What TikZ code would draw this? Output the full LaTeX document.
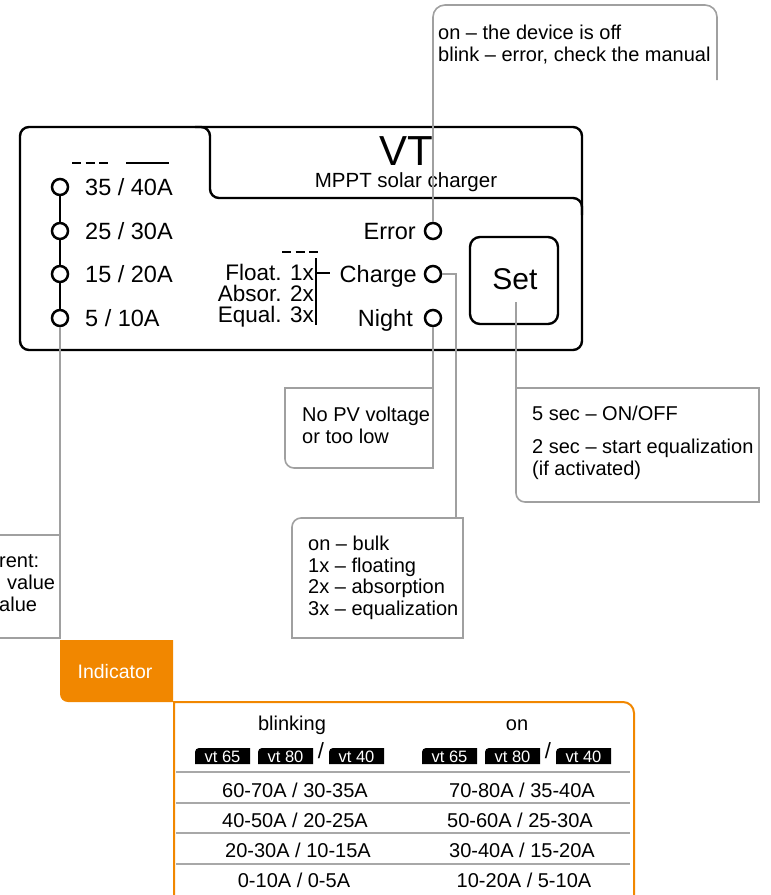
\documentclass[tikz,border=0pt]{standalone}
\usepackage{fontspec}
\setmainfont{Liberation Sans}
\definecolor{linegray}{HTML}{A0A0A0}
\definecolor{orng}{HTML}{F18700}
\definecolor{rowgray}{HTML}{A8A8A8}
\begin{document}
\begin{tikzpicture}[x=1pt,y=-1pt,
  dev/.style={line width=2.4pt, line join=round},
  led/.style={circle, draw, line width=2.5pt, minimum size=16pt, inner sep=0pt},
  big/.style={font=\fontsize{23.5}{23.5}\selectfont, inner sep=0pt},
  mode/.style={font=\fontsize{22.5}{22.5}\selectfont, inner sep=0pt, anchor=base east},
  note/.style={font=\fontsize{20}{22}\selectfont, inner sep=0pt, anchor=base west},
  conn/.style={draw=linegray, line width=1.6pt},
  cell/.style={font=\fontsize{20}{20}\selectfont, inner sep=0pt, anchor=base},
  badgetxt/.style={text=white, font=\fontsize{16.5}{16.5}\selectfont, inner sep=0pt, anchor=base},
  dashline/.style={line width=2.6pt, dash pattern=on 9pt off 4.5pt},
]
\useasboundingbox (0,0) rectangle (771,895);

% ---------- device body ----------
\draw[dev, rounded corners=9] (20,127) rectangle (582,350);
\draw[dev, rounded corners=9] (195,127) -- (210,127) -- (210,198) -- (582,198) -- (582,215);
\node[inner sep=0pt, anchor=base, font=\fontsize{42}{42}\selectfont] (vt) at (406,165) {VT};
\node[inner sep=0pt, anchor=base, font=\fontsize{20.5}{20.5}\selectfont] (mppt) at (406,187) {MPPT solar charger};

% left LED column
\node[led] (l1) at (60,187) {};
\node[led] (l2) at (60,231) {};
\node[led] (l3) at (60,274) {};
\node[led] (l4) at (60,318) {};
\draw[line width=2.4pt] (l1) -- (l2) -- (l3) -- (l4);
\node[big, anchor=base west] (t1) at (85,195.5) {35 / 40A};
\node[big, anchor=base west] (t2) at (85,239.5) {25 / 30A};
\node[big, anchor=base west] (t3) at (85,282.5) {15 / 20A};
\node[big, anchor=base west] (t4) at (85,326.5) {5 / 10A};
\draw[dashline] (72,163) -- (108,163);
\draw[line width=2.6pt] (126,163) -- (169,163);

% right LED column
\node[led] (err) at (433,231) {};
\node[led] (chg) at (433,274) {};
\node[led] (ngt) at (433,318) {};
\node[big, anchor=base east] (terr) at (416,239.5) {Error};
\node[big, anchor=base east] (tchg) at (417,282.5) {Charge};
\node[big, anchor=base east] (tngt) at (413,326.5) {Night};

% float / absor / equal
\node[mode] (fl) at (314,280) {Float. 1x};
\node[mode] (ab) at (314,301) {Absor. 2x};
\node[mode] (eq) at (314,322) {Equal. 3x};
\draw[line width=2.4pt] (316,258) -- (316,325);
\draw[line width=2.4pt] (316,273) -- (330,273);
\draw[dashline] (282,252) -- (320,252);

% Set button
\draw[dev, rounded corners=10] (470,237) rectangle (558,324);
\node[inner sep=0pt, anchor=base, font=\fontsize{30}{30}\selectfont] (set) at (515,289) {Set};
\coordinate (setc) at (516,302);

% ---------- callouts ----------
% error callout
\coordinate (eb) at (433,5);
\draw[conn, rounded corners=12] (err.north) -- (eb) -- (717,5) -- (717,80);
\node[note] (enote1) at (438,39) {on -- the device is off};
\node[note] (enote2) at (438,61) {blink -- error, check the manual};

% night callout
\coordinate (nb) at (433,388);
\draw[conn] (ngt.south) -- (nb);
\draw[conn] (nb) -- (433,468) [rounded corners=9] -- (285,468) [sharp corners] -- (285,388) -- (nb);
\node[note] (nnote1) at (302,421) {No PV voltage};
\node[note] (nnote2) at (302,443) {or too low};

% set callout
\coordinate (sb) at (516,388);
\draw[conn] (setc) -- (sb);
\draw[conn] (sb) -- (759,388) -- (759,502) [rounded corners=9] -- (516,502) [sharp corners] -- (sb);
\node[note] (snote1) at (532,420) {5 sec -- ON/OFF};
\node[note] (snote2) at (532,453) {2 sec -- start equalization};
\node[note] (snote3) at (532,475) {(if activated)};

% charge callout
\coordinate (cb) at (456,518);
\draw[conn] (chg.east) -| (cb);
\draw[conn] (292,638) [rounded corners=9] -- (292,518) [sharp corners] -- (463,518) -- (463,638) -- cycle;
\node[note] (cnote1) at (308,550) {on -- bulk};
\node[note] (cnote2) at (308,572) {1x -- floating};
\node[note] (cnote3) at (308,593) {2x -- absorption};
\node[note] (cnote4) at (308,615) {3x -- equalization};

% current callout (cut at the left edge)
\coordinate (ib) at (60,535);
\draw[conn] (l4.south) -- (ib);
\draw[conn] (-5,535) -- (ib) -- (60,638) -- (-5,638);
\node[note] (inote1) at (-1,567) {rent:};
\node[note] (inote2) at (7,589) {value};
\node[note] (inote3) at (-1,611) {alue};

% ---------- indicator ----------
\fill[orng] (60,640) -- (173,640) -- (173,702) [rounded corners=8] -- (60,702) [sharp corners] -- cycle;
\node[inner sep=0pt, text=white, font=\fontsize{19.5}{19.5}\selectfont] (ind) at (115,672) {Indicator};

\draw[orng, line width=2pt] (174,900) -- (174,702) [rounded corners=11] -- (634,702) [sharp corners] -- (634,900);

\node[cell] (hb) at (292,730) {blinking};
\node[cell] (ho) at (517,730) {on};

% badges
\foreach \n/\xa/\xb/\t in {a/195/250/vt 65, b/258/313/vt 80, c/329/384/vt 40, d/422/477/vt 65, e/485/540/vt 80, f/556/611/vt 40}{
  \fill (\xa,764) [rounded corners=4] -- (\xa,748) [sharp corners] -- (\xb,748) -- (\xb,764) -- cycle;
  \node[badgetxt] (bd\n) at ({(\xa+\xb)/2},762) {\t};
}
\node[inner sep=0pt, font=\fontsize{22}{22}\selectfont] (s1) at (321,751) {/};
\node[inner sep=0pt, font=\fontsize{22}{22}\selectfont] (s2) at (548,751) {/};

% rows
\foreach \y in {772,803,833,864}{
  \draw[rowgray, line width=1.5pt] (176,\y) -- (630,\y);
}
\node[cell] (r1a) at (295,797) {60-70A / 30-35A};
\node[cell] (r1b) at (522,797) {70-80A / 35-40A};
\node[cell] (r2a) at (295,827) {40-50A / 20-25A};
\node[cell] (r2b) at (520,827) {50-60A / 25-30A};
\node[cell] (r3a) at (298,857) {20-30A / 10-15A};
\node[cell] (r3b) at (522,857) {30-40A / 15-20A};
\node[cell] (r4a) at (294,887) {0-10A / 0-5A};
\node[cell] (r4b) at (524,887) {10-20A / 5-10A};
\end{tikzpicture}
\end{document}
